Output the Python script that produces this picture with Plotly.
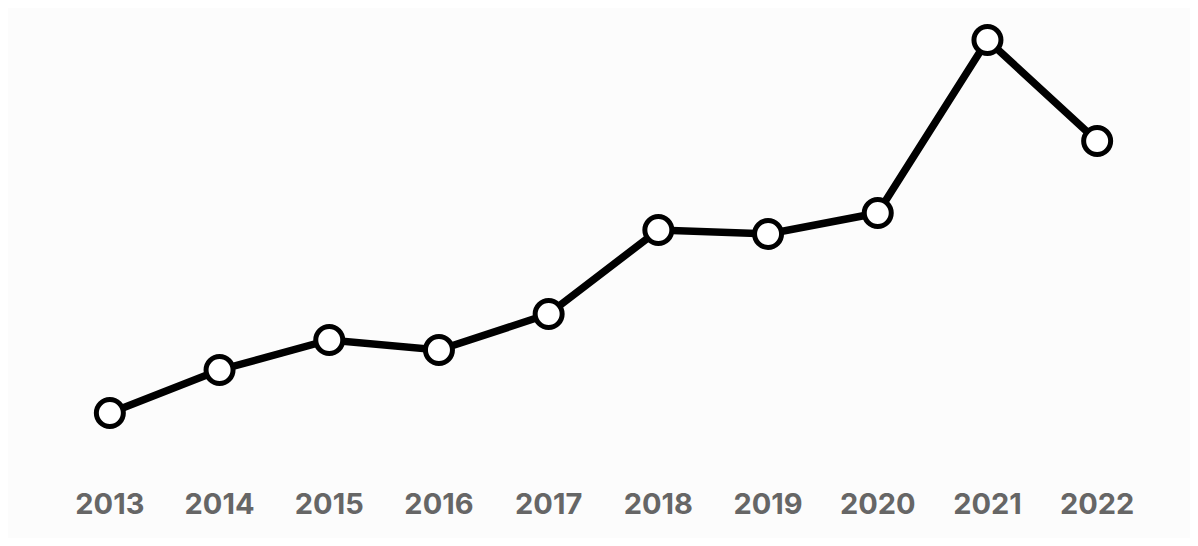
import plotly.graph_objects as go

years = ["2013", "2014", "2015", "2016", "2017", "2018", "2019", "2020", "2021", "2022"]
values = [37, 80, 110, 100, 136, 220, 216, 237, 410, 309]

fig = go.Figure(go.Scatter(
    x=list(range(len(years))), y=values, mode="lines+markers",
    line=dict(color="#000000", width=7.5),
    marker=dict(size=27, color="#ffffff", line=dict(color="#000000", width=5)),
    cliponaxis=False,
))

fig.update_layout(
    width=1182, height=530,
    margin=dict(l=47, r=38, t=0, b=78),
    paper_bgcolor="#fcfcfc", plot_bgcolor="#fcfcfc",
    showlegend=False,
    xaxis=dict(range=[-0.5, 9.5], tickvals=list(range(len(years))), ticktext=years,
               showgrid=False, zeroline=False, showline=False,
               ticks="outside", ticklen=18, tickcolor="rgba(0,0,0,0)",
               tickfont=dict(family="Inter", size=29, color="#666666", weight="bold")),
    yaxis=dict(range=[-10, 442], visible=False, showgrid=False, zeroline=False),
)

fig.write_html("out.html")
